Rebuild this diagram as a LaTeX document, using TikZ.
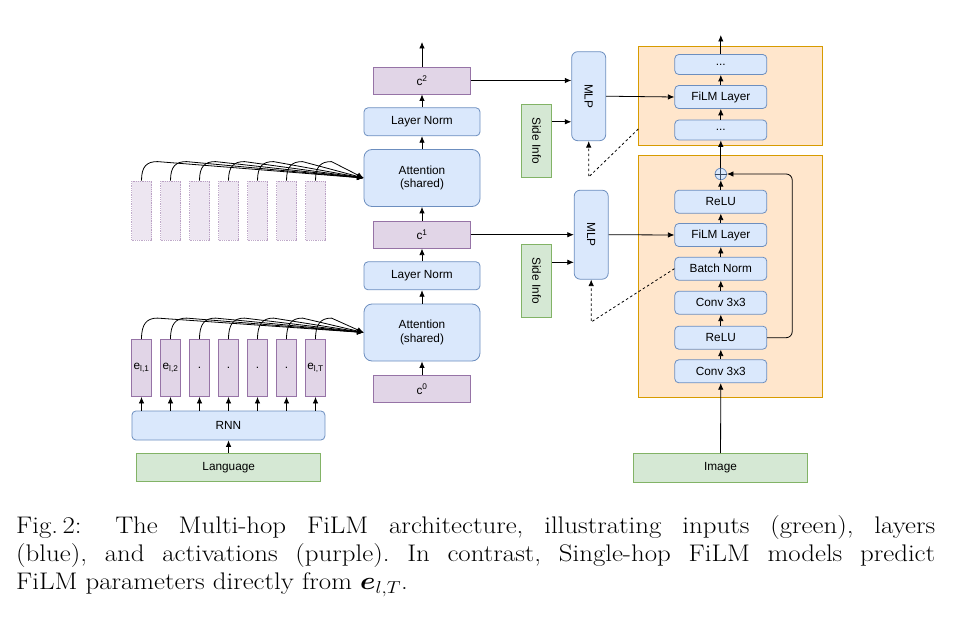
\documentclass[tikz,border=0pt]{standalone}
\usepackage{fontspec}
\usepackage{amsmath}
\usepackage{graphicx}
\newfontfamily\diagfont{Liberation Sans}
\usetikzlibrary{arrows.meta}

\definecolor{layerfill}{HTML}{DAE8FC}
\definecolor{layerline}{HTML}{6C8EBF}
\definecolor{actfill}{HTML}{E1D5E7}
\definecolor{actline}{HTML}{9673A6}
\definecolor{inpfill}{HTML}{D5E8D4}
\definecolor{inpline}{HTML}{82B366}
\definecolor{blockfill}{HTML}{FFE6CC}
\definecolor{blockline}{HTML}{D79B00}

\tikzset{
  box/.style={inner sep=0pt, line width=0.8pt, align=center,
    font=\diagfont\fontsize{11.8}{13.8}\selectfont},
  layer/.style={box, draw=layerline, fill=layerfill, rounded corners=4pt},
  act/.style={box, draw=actline, fill=actfill},
  inp/.style={box, draw=inpline, fill=inpfill},
  ghost/.style={draw=actline, densely dotted, fill=actfill, fill opacity=0.6,
    draw opacity=0.6, line width=0.8pt, minimum width=20pt, minimum height=59pt},
  block/.style={draw=blockline, fill=blockfill, line width=0.8pt},
  arr/.style={line width=0.8pt, -{Latex[length=6.5pt,width=5.5pt]}},
  hint/.style={arr, dash pattern=on 2.5pt off 2.5pt}
}

\begin{document}
\begin{tikzpicture}[x=1pt, y=-1pt]
\useasboundingbox (0,0) rectangle (960,628);

\draw[block] (638.3,46.7) rectangle (822.3,145);
\draw[block] (638.3,155.5) rectangle (822.3,397.3);

\node[inp, minimum width=184pt, minimum height=28.5pt] (lang) at (228.7,467.5) {Language};
\node[layer, minimum width=193pt, minimum height=29pt] (rnn) at (228.4,425.5) {RNN};

\node[act, minimum width=20pt, minimum height=57pt] (e1) at (141.5,368) {e\textsubscript{l,1}};
\node[act, minimum width=20pt, minimum height=57pt] (e2) at (170.5,368) {e\textsubscript{l,2}};
\node[act, minimum width=20pt, minimum height=57pt] (e3) at (199.5,368) {.};
\node[act, minimum width=20pt, minimum height=57pt] (e4) at (228.5,368) {.};
\node[act, minimum width=20pt, minimum height=57pt] (e5) at (257.5,368) {.};
\node[act, minimum width=20pt, minimum height=57pt] (e6) at (286.5,368) {.};
\node[act, minimum width=20pt, minimum height=57pt] (e7) at (315.5,368) {e\textsubscript{l,T}};

\node[ghost] (g1) at (141.5,210.5) {};
\node[ghost] (g2) at (170.5,210.5) {};
\node[ghost] (g3) at (199.5,210.5) {};
\node[ghost] (g4) at (228.5,210.5) {};
\node[ghost] (g5) at (257.5,210.5) {};
\node[ghost] (g6) at (286.5,210.5) {};
\node[ghost] (g7) at (315.5,210.5) {};

\node[act, minimum width=97pt, minimum height=27pt] (c0) at (422,389.2) {c\textsuperscript{0}};
\node[layer, minimum width=116pt, minimum height=57pt, rounded corners=8pt] (attA) at (422,332.5) {Attention\\(shared)};
\node[layer, minimum width=116pt, minimum height=28pt] (lnA) at (422,275.8) {Layer Norm};
\node[act, minimum width=97pt, minimum height=27pt] (c1) at (422,234.7) {c\textsuperscript{1}};
\node[layer, minimum width=116pt, minimum height=57pt, rounded corners=8pt] (attB) at (422,178) {Attention\\(shared)};
\node[layer, minimum width=116pt, minimum height=28pt] (lnB) at (422,121.8) {Layer Norm};
\node[act, minimum width=97pt, minimum height=27pt] (c2) at (422,80.5) {c\textsuperscript{2}};
\coordinate (outc) at (422,42);

\node[layer, minimum width=34pt, minimum height=89pt, rounded corners=6pt] (mlpB) at (588.7,96.2) {\rotatebox{-90}{MLP}};
\node[inp, minimum width=30pt, minimum height=73pt] (sideB) at (536.7,140.8) {\rotatebox{-90}{Side Info}};
\node[layer, minimum width=34pt, minimum height=89pt, rounded corners=6pt] (mlpA) at (591.2,234.7) {\rotatebox{-90}{MLP}};
\node[inp, minimum width=30pt, minimum height=73pt] (sideA) at (536.7,280.7) {\rotatebox{-90}{Side Info}};

\node[layer, minimum width=92pt, minimum height=20pt] (dotsT) at (720.8,64.5) {...};
\node[layer, minimum width=92pt, minimum height=23pt] (filmB) at (720.8,97) {FiLM Layer};
\node[layer, minimum width=92pt, minimum height=20pt] (dotsB) at (720.8,130) {...};
\coordinate (outr) at (720.8,35);

\node[circle, draw=layerline, fill=layerfill, line width=0.8pt, minimum size=11.5pt, inner sep=0pt] (plus) at (720.8,174) {};
\draw[layerline!50!black, line width=0.7pt] (plus.north) -- (plus.south) (plus.west) -- (plus.east);
\node[layer, minimum width=92pt, minimum height=23pt] (relu2) at (720.8,201.7) {ReLU};
\node[layer, minimum width=92pt, minimum height=23pt] (filmA) at (720.8,235) {FiLM Layer};
\node[layer, minimum width=92pt, minimum height=23pt] (bn) at (720.8,268.7) {Batch Norm};
\node[layer, minimum width=92pt, minimum height=23pt] (conv2) at (720.8,302.7) {Conv 3x3};
\node[layer, minimum width=92pt, minimum height=23pt] (relu1) at (720.8,337.7) {ReLU};
\node[layer, minimum width=92pt, minimum height=23pt] (conv1) at (720.8,371.3) {Conv 3x3};
\node[inp, minimum width=174pt, minimum height=29pt] (img) at (720.5,468) {Image};

\draw[arr] (lang) edge (rnn);
\draw[arr] (e1.south |- rnn.north) -- (e1.south);
\draw[arr] (e2.south |- rnn.north) -- (e2.south);
\draw[arr] (e3.south |- rnn.north) -- (e3.south);
\draw[arr] (e4.south |- rnn.north) -- (e4.south);
\draw[arr] (e5.south |- rnn.north) -- (e5.south);
\draw[arr] (e6.south |- rnn.north) -- (e6.south);
\draw[arr] (e7.south |- rnn.north) -- (e7.south);

\draw[arr] (e1.north) .. controls +(0,-15) and +(-11,0) .. ++(16,-21) -- (attA.west);
\draw[arr] (e2.north) .. controls +(0,-15) and +(-11,0) .. ++(16,-21) -- (attA.west);
\draw[arr] (e3.north) .. controls +(0,-15) and +(-11,0) .. ++(16,-21) -- (attA.west);
\draw[arr] (e4.north) .. controls +(0,-15) and +(-11,0) .. ++(16,-21) -- (attA.west);
\draw[arr] (e5.north) .. controls +(0,-15) and +(-11,0) .. ++(16,-21) -- (attA.west);
\draw[arr] (e6.north) .. controls +(0,-15) and +(-11,0) .. ++(16,-21) -- (attA.west);
\draw[arr] (e7.north) .. controls +(0,-15) and +(-11,0) .. ++(16,-21) -- (attA.west);

\draw[arr] (g1.north) .. controls +(0,-14) and +(-11,0) .. ++(16,-19) -- (attB.west);
\draw[arr] (g2.north) .. controls +(0,-14) and +(-11,0) .. ++(16,-19) -- (attB.west);
\draw[arr] (g3.north) .. controls +(0,-14) and +(-11,0) .. ++(16,-19) -- (attB.west);
\draw[arr] (g4.north) .. controls +(0,-14) and +(-11,0) .. ++(16,-19) -- (attB.west);
\draw[arr] (g5.north) .. controls +(0,-14) and +(-11,0) .. ++(16,-19) -- (attB.west);
\draw[arr] (g6.north) .. controls +(0,-14) and +(-11,0) .. ++(16,-19) -- (attB.west);
\draw[arr] (g7.north) .. controls +(0,-14) and +(-11,0) .. ++(16,-19) -- (attB.west);

\draw[arr] (c0) edge (attA);
\draw[arr] (attA) edge (lnA);
\draw[arr] (lnA) edge (c1);
\draw[arr] (c1) edge (attB);
\draw[arr] (attB) edge (lnB);
\draw[arr] (lnB) edge (c2);
\draw[arr] (c2.north) -- (outc);

\draw[arr] (c2.east) -- (c2.east -| mlpB.west);
\draw[arr] ([yshift=19pt]sideB.east) -- ([yshift=19pt]sideB.east -| mlpB.west);
\draw[arr] (mlpB.east) -- (filmB.west);
\draw[arr] (c1.east) -- (mlpA.west);
\draw[arr] ([yshift=18.4pt]sideA.east) -- ([yshift=18.4pt]sideA.east -| mlpA.west);
\draw[arr] (mlpA.east) -- (filmA.west);

\coordinate (edgeB) at (638.3,129);
\coordinate (kneeB) at (588.7,177);
\coordinate (kneeA) at (591.2,322);
\draw[hint] (edgeB) -- (kneeB) -- (mlpB.south);
\draw[hint] (bn.west) -- (kneeA) -- (mlpA.south);

\draw[arr] (img) edge (conv1);
\draw[arr] (conv1) edge (relu1);
\draw[arr] (relu1) edge (conv2);
\draw[arr] (conv2) edge (bn);
\draw[arr] (bn) edge (filmA);
\draw[arr] (filmA) edge (relu2);
\draw[arr] (relu2) edge (plus);
\draw[arr, rounded corners=6pt] (relu1.east) -- ++(25,0) |- (plus.east);
\draw[arr] (plus) edge (dotsB);
\draw[arr] (dotsB) edge (filmB);
\draw[arr] (filmB) edge (dotsT);
\draw[arr] (dotsT.north) -- (outr);

\node[anchor=north west, inner sep=0pt] (caption) at (16,515.3)
  {\scalebox{1.12}[1]{\parbox[t]{820.5pt}{\fontsize{24}{28}\selectfont\frenchspacing
   Fig.\,2:\hspace{1.25em}The Multi-hop FiLM architecture, illustrating inputs (green), layers\linebreak
   (blue), and activations (purple). In contrast, Single-hop FiLM models predict\linebreak
   FiLM parameters directly from $\boldsymbol{e}_{l,T}$.}}};

\end{tikzpicture}
\end{document}
